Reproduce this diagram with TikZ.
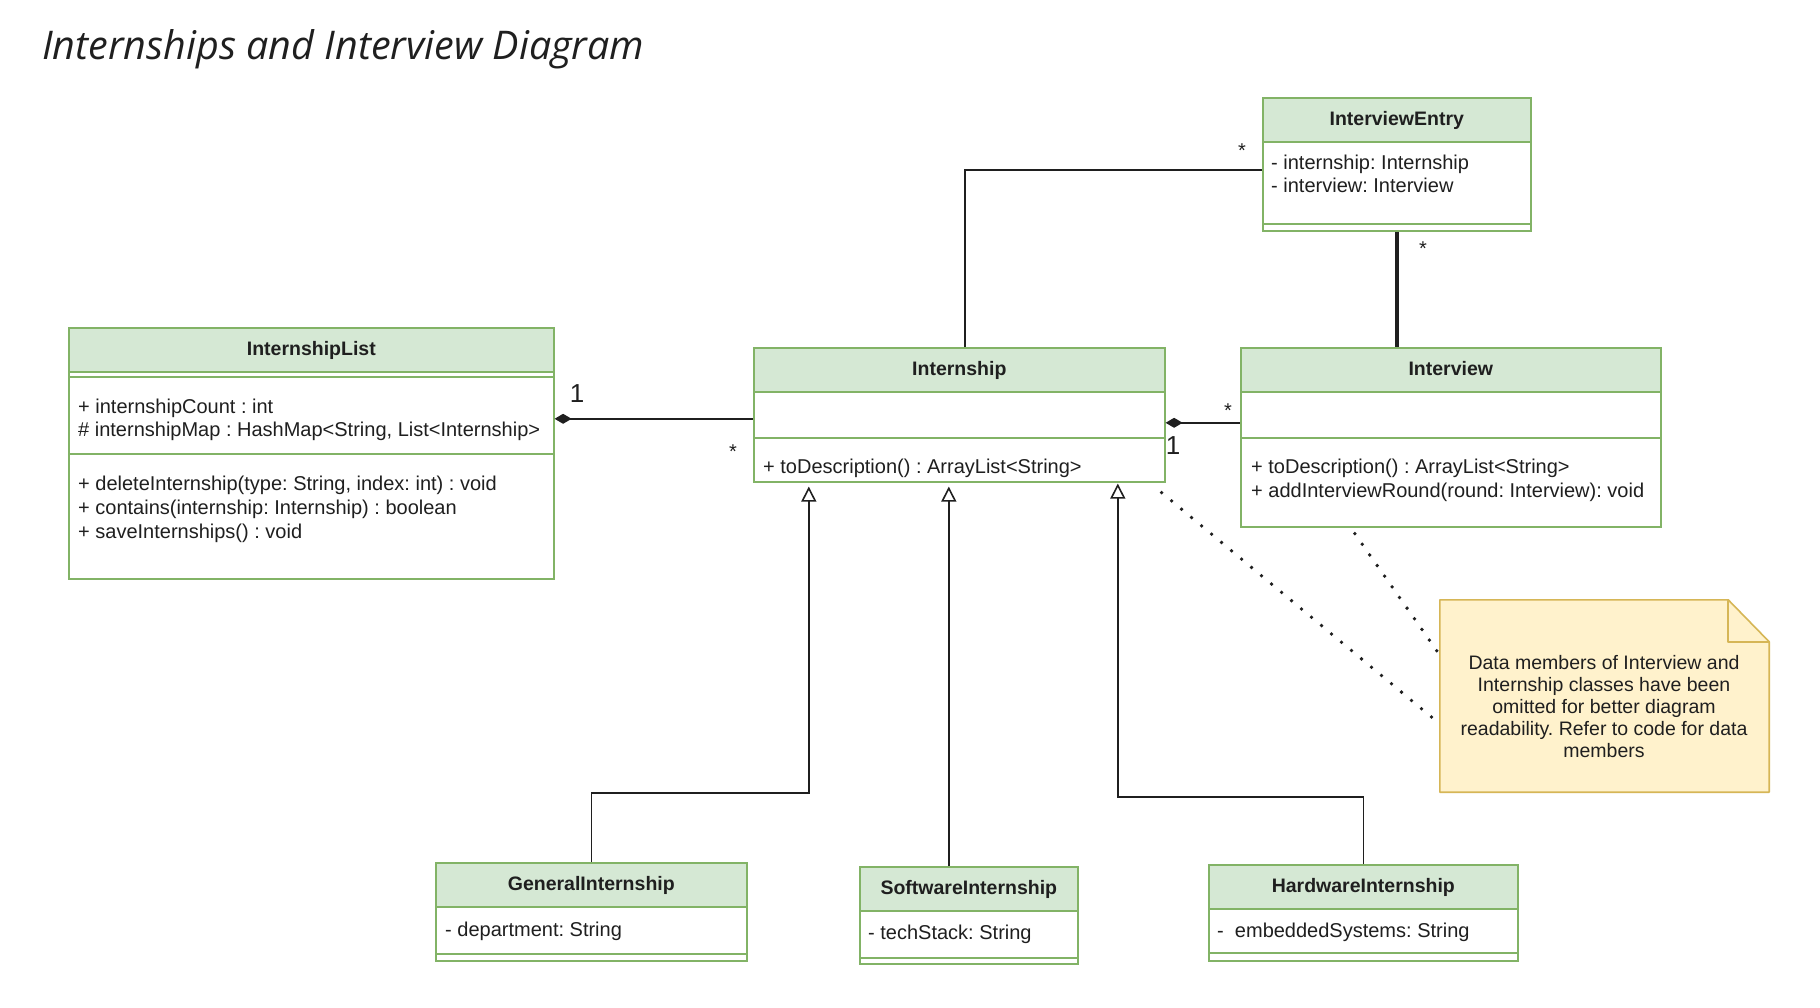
\documentclass[tikz,border=0pt]{standalone}
\usepackage{fontspec}
\setmainfont{Liberation Sans}
\newfontfamily\titlefont{Open Sans}
\usetikzlibrary{arrows.meta}

\definecolor{hdrfill}{HTML}{D5E8D4}
\definecolor{hdrline}{HTML}{82B366}
\definecolor{notefill}{HTML}{FFF2CC}
\definecolor{noteline}{HTML}{D6B656}
\definecolor{ink}{HTML}{1F1F1F}

\frenchspacing
\begin{document}
\begin{tikzpicture}[x=1pt,y=-1pt,
  font=\fontsize{20}{23}\selectfont,
  classbox/.style={draw=hdrline, line width=1.6pt, fill=white, anchor=north west, inner sep=0pt},
  classhead/.style={draw=hdrline, line width=1.6pt, fill=hdrfill, anchor=north west, inner sep=0pt,
    minimum height=44pt, text height=14.5pt, text depth=4pt, text=ink,
    font=\fontsize{19.5}{23}\selectfont\bfseries},
  compline/.style={draw=hdrline, line width=1.6pt},
  member/.style={anchor=base west, inner sep=0pt, text=ink},
  mult/.style={anchor=base, inner sep=0pt, text=ink},
  bigmult/.style={anchor=base, inner sep=0pt, text=ink, font=\fontsize{26}{30}\selectfont},
  assoc/.style={draw=ink, line width=1.6pt},
  inherit/.style={draw=ink, line width=1.6pt, -{Triangle[open, length=15pt, width=15pt, line width=1.6pt]}},
  owner/.style={draw=ink, line width=1.6pt, {Diamond[length=17pt, width=10pt]}-},
  noteline/.style={draw=ink, line width=3.8pt, line cap=round, dash pattern=on 0pt off 13pt},
]
\useasboundingbox (0,0) rectangle (1820,1008);
\fill[white] (0,0) rectangle (1820,1008);

% title
\node[anchor=base west, inner sep=0pt, text=ink, font=\titlefont\itshape\fontsize{39.5}{46}\selectfont]
  (title) at (42,60) {Internships and Interview Diagram};

% ---------- InternshipList ----------
\node[classbox, minimum width=485pt, minimum height=251pt] (ilist) at (68,327) {};
\node[classhead, minimum width=485pt] (ilistH) at (68,327) {InternshipList};
\draw[compline] (68,377) -- (553,377);
\draw[compline] (68,454) -- (553,454);
\node[member] (il1) at (78,413) {+ internshipCount : int};
\node[member] (il2) at (78,436) {\# internshipMap : HashMap<String, List<Internship>};
\node[member] (il3) at (78,490) {+ deleteInternship(type: String, index: int) : void};
\node[member] (il4) at (78,514) {+ contains(internship: Internship) : boolean};
\node[member] (il5) at (78,538) {+ saveInternships() : void};

% ---------- Internship ----------
\node[classbox, minimum width=411pt, minimum height=134pt] (intern) at (753,347) {};
\node[classhead, minimum width=411pt] (internH) at (753,347) {Internship};
\draw[compline] (753,438) -- (1164,438);
\node[member] (in1) at (763,473) {+ toDescription() : ArrayList<String>};

% ---------- Interview ----------
\node[classbox, minimum width=420pt, minimum height=179pt] (iview) at (1240,347) {};
\node[classhead, minimum width=420pt] (iviewH) at (1240,347) {Interview};
\draw[compline] (1240,438) -- (1660,438);
\node[member] (iv1) at (1251,473) {+ toDescription() : ArrayList<String>};
\node[member] (iv2) at (1251,497) {+ addInterviewRound(round: Interview): void};

% ---------- InterviewEntry ----------
\node[classbox, minimum width=268pt, minimum height=133pt] (ientry) at (1262,97) {};
\node[classhead, minimum width=268pt] (ientryH) at (1262,97) {InterviewEntry};
\draw[compline] (1262,224) -- (1530,224);
\node[member] (ie1) at (1271,170) {- internship: Internship};
\node[member] (ie2) at (1271,193) {- interview: Interview};

% ---------- subclasses ----------
\node[classbox, minimum width=311pt, minimum height=98pt] (gen) at (435,862) {};
\node[classhead, minimum width=311pt] (genH) at (435,862) {GeneralInternship};
\draw[compline] (435,954) -- (746,954);
\node[member] (ge1) at (445,936) {- department: String};

\node[classbox, minimum width=218pt, minimum height=97pt] (sw) at (859,866) {};
\node[classhead, minimum width=218pt] (swH) at (859,866) {SoftwareInternship};
\draw[compline] (859,958) -- (1077,958);
\node[member] (sw1) at (868,939) {- techStack: String};

\node[classbox, minimum width=309pt, minimum height=96pt] (hw) at (1208,864) {};
\node[classhead, minimum width=309pt] (hwH) at (1208,864) {HardwareInternship};
\draw[compline] (1208,953) -- (1517,953);
\node[member] (hw1) at (1217,937) {-\ \ embeddedSystems: String};

% ---------- note ----------
\node[minimum width=329pt, minimum height=192pt, inner sep=0pt] (note) at (1604.5,696) {};
\draw[fill=notefill, draw=noteline, line width=1.6pt, line join=round]
  (note.south west) -- (note.north west) -- ([xshift=-41pt]note.north east)
  -- ([yshift=-42pt]note.north east) -- (note.south east) -- cycle;
\draw[draw=noteline, line width=1.6pt, line join=round]
  ([xshift=-41pt]note.north east) -- ([xshift=-41pt,yshift=-42pt]note.north east)
  -- ([yshift=-42pt]note.north east);
\node[align=center, inner sep=0pt, text=ink, font=\fontsize{19.5}{22}\selectfont]
  (notetext) at (1604,707) {Data members of Interview and\\Internship classes have been\\omitted for better diagram\\readability. Refer to code for data\\members};

% ---------- connectors ----------
\coordinate (a1) at ([yshift=-4pt]intern.west);
\draw[owner] (a1 -| ilist.east) -- (a1);
\node[bigmult] (m1) at (577,402) {1};
\node[mult] (m2) at (733,458) {*};

\coordinate (a2) at ([yshift=-8pt]intern.east);
\draw[owner] (a2) -- (a2 -| iview.west);
\node[bigmult] (m3) at (1173,454) {1};
\node[mult] (m4) at (1228,417) {*};

\coordinate (a3) at ([xshift=5.5pt]intern.north);
\coordinate (a4) at ([yshift=-5.5pt]ientry.west);
\draw[assoc] (a3) |- (a4);
\node[mult] (m5) at (1242,158) {*};

\draw[draw=ink, line width=4.5pt] (ientry.south) -- (ientry.south |- iview.north);
\node[mult] (m6) at (1423,256) {*};

% generalisations
\coordinate (t1) at ([xshift=-150.5pt]intern.south);
\coordinate (t2) at ([xshift=-10.5pt]intern.south);
\coordinate (t3) at ([xshift=158.5pt]intern.south);
\draw[inherit, shorten >=4pt] (gen.north) -- ++(0,-69) -| (t1);
\draw[inherit, shorten >=4pt] (t2 |- sw.north) -- (t2);
\draw[inherit, shorten >=1pt] (hw.north) -- ++(0,-67) -| (t3);

% note links
\draw[noteline] ([xshift=-96pt,yshift=-6pt]iview.south) -- ([yshift=41pt]note.west);
\draw[noteline] ([xshift=-4pt,yshift=-10pt]intern.south east) -- ([yshift=-28pt]note.west);
\end{tikzpicture}
\end{document}
